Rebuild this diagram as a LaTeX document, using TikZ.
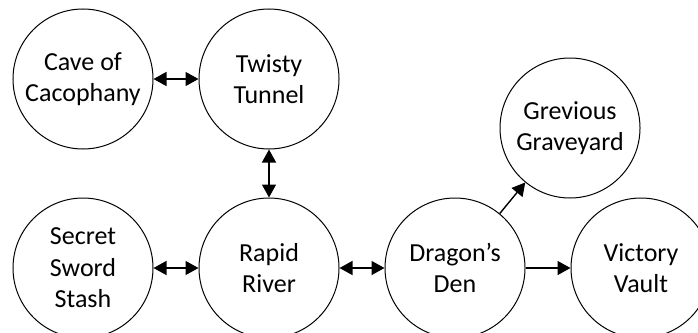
\documentclass[tikz,border=0pt]{standalone}
\usepackage{fontspec}
\setmainfont{Carlito}
\usepackage{tikz}
\usepackage{xcolor}
\definecolor{textcolor}{HTML}{000000}
\usetikzlibrary{arrows.meta, positioning, calc}

\begin{document}
\begin{tikzpicture}
        [
          x=1bp, y=1bp,
          node distance=45bp,
          every node/.style={align=center, text=textcolor},
          room/.style={circle, draw, line width=1bp, minimum size=140bp, inner sep=0pt,
                       font=\fontsize{26bp}{31.5bp}\selectfont},
          link/.style={line width=1.4bp, {Triangle[length=13bp,width=14bp]}-{Triangle[length=13bp,width=14bp]}},
          oneway/.style={line width=1.4bp, -{Triangle[length=13bp,width=14bp]}}
        ]
        \clip (0,0) rectangle (698,332);
        \node[room] (cave) at (83,253) {Cave of\\Cacophany};
        \node[room, right=of cave] (tunnel) {Twisty\\Tunnel};
        \node[room, below=48bp of tunnel] (river) {Rapid\\River};
        \node[room, left=of river] (stash) {Secret\\Sword\\Stash};
        \node[room, right=of river] (den) {Dragon’s\\Den};
        \node[room, right=of den] (vault) {Victory\\Vault};
        \node[room] (grave) at ($(den)+(115,140)$) {Grevious\\Graveyard};

        \path[link]
                  (cave) edge (tunnel)
                  (tunnel) edge (river)
                  (stash) edge (river)
                  (river) edge (den);
        \path[oneway]
                  (den) edge (vault)
                  (den) edge (grave);
      \end{tikzpicture}
\end{document}
